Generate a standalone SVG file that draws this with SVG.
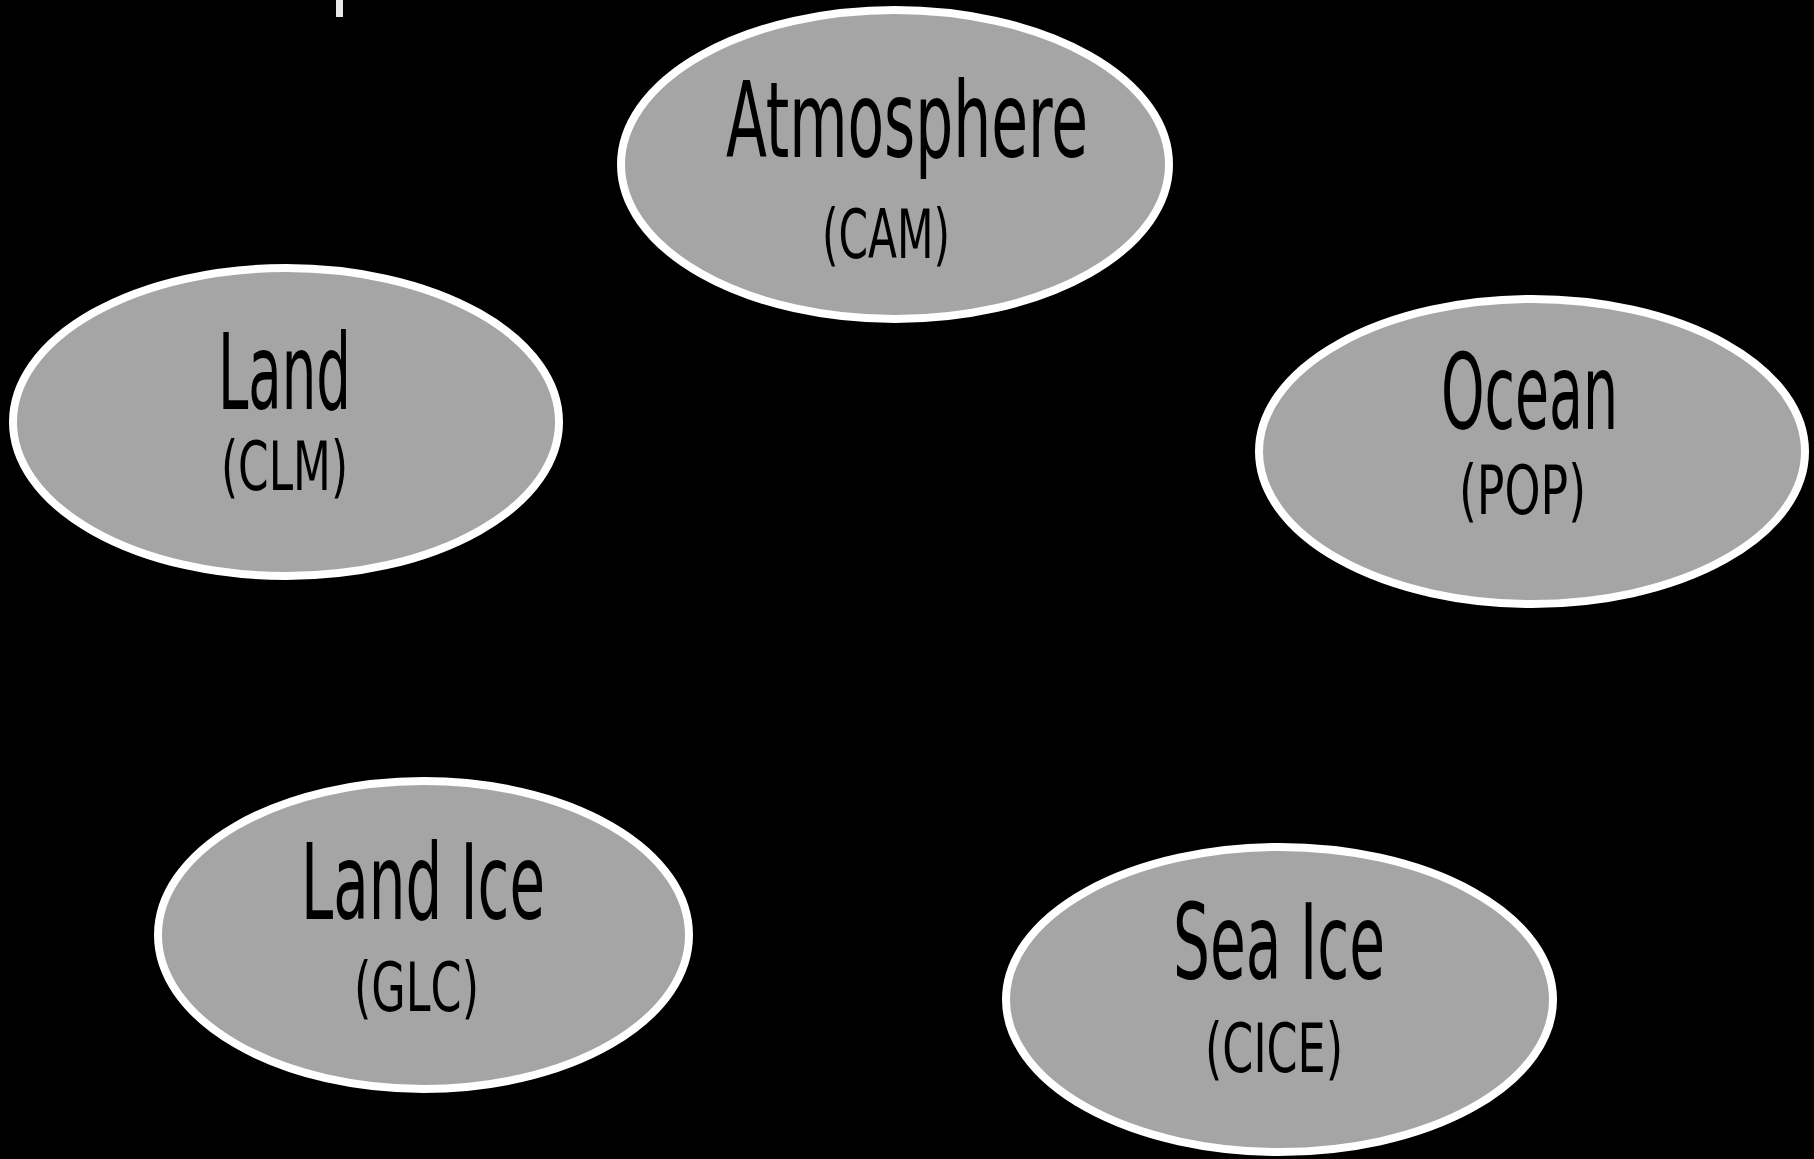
<svg xmlns="http://www.w3.org/2000/svg" width="1814" height="1159" viewBox="0 0 1814 1159">
<style>
.node{fill:#a5a5a5;stroke:#ffffff;stroke-width:8}
.t1{font-family:"Liberation Sans Narrow","DejaVu Sans Condensed","Liberation Sans",sans-serif;font-size:105px;fill:#000000}
.t2{font-family:"Liberation Sans Narrow","DejaVu Sans Condensed","Liberation Sans",sans-serif;font-size:68px;fill:#000000}
</style>
<rect x="0" y="0" width="1814" height="1159" fill="#000000"/>
<rect x="336" y="0" width="7" height="17" fill="#e8e8e8"/>
<g id="connectors"/>
<g id="atmosphere">
<ellipse class="node" cx="895" cy="164.5" rx="274" ry="154.5"/>
<text class="t1" x="726" y="157" textLength="362" lengthAdjust="spacingAndGlyphs">Atmosphere</text>
<text class="t2" x="822" y="258" textLength="128" lengthAdjust="spacingAndGlyphs">(CAM)</text>
</g>
<g id="land">
<ellipse class="node" cx="286" cy="422" rx="273" ry="154"/>
<text class="t1" x="218" y="409" textLength="133" lengthAdjust="spacingAndGlyphs">Land</text>
<text class="t2" x="221" y="490" textLength="127" lengthAdjust="spacingAndGlyphs">(CLM)</text>
</g>
<g id="ocean">
<ellipse class="node" cx="1532" cy="451.5" rx="273" ry="152.5"/>
<text class="t1" x="1441" y="429" textLength="177" lengthAdjust="spacingAndGlyphs">Ocean</text>
<text class="t2" x="1459" y="514" textLength="127" lengthAdjust="spacingAndGlyphs">(POP)</text>
</g>
<g id="land-ice">
<ellipse class="node" cx="423.5" cy="935" rx="265.5" ry="154"/>
<text class="t1" x="301" y="919" textLength="244" lengthAdjust="spacingAndGlyphs">Land Ice</text>
<text class="t2" x="354" y="1011" textLength="125" lengthAdjust="spacingAndGlyphs">(GLC)</text>
</g>
<g id="sea-ice">
<ellipse class="node" cx="1279.5" cy="999.5" rx="273.5" ry="152.5"/>
<text class="t1" x="1173" y="979" textLength="212" lengthAdjust="spacingAndGlyphs">Sea Ice</text>
<text class="t2" x="1205" y="1072" textLength="138" lengthAdjust="spacingAndGlyphs">(CICE)</text>
</g>
</svg>
